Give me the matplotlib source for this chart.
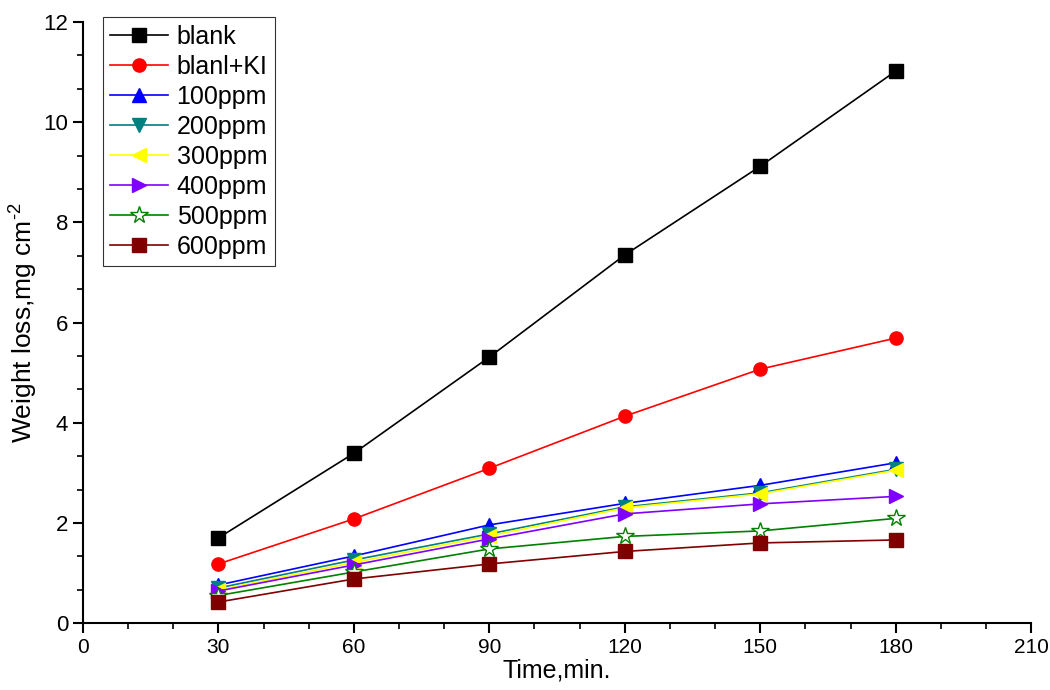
import numpy as np
import matplotlib
matplotlib.use('Agg')
import matplotlib.pyplot as plt
from matplotlib.ticker import MultipleLocator

plt.rcParams['font.family'] = ['Liberation Sans', 'DejaVu Sans']
plt.rcParams['mathtext.fontset'] = 'custom'
plt.rcParams['mathtext.rm'] = 'Liberation Sans'

time = [30, 60, 90, 120, 150, 180]

blank = [1.70, 3.39, 5.31, 7.35, 9.12, 11.02]
blank_ki = [1.18, 2.08, 3.09, 4.13, 5.07, 5.69]
ppm100 = [0.76, 1.34, 1.96, 2.39, 2.75, 3.20]
ppm200 = [0.70, 1.26, 1.78, 2.32, 2.60, 3.07]
ppm300 = [0.66, 1.21, 1.74, 2.30, 2.58, 3.05]
ppm400 = [0.64, 1.16, 1.68, 2.18, 2.38, 2.53]
ppm500 = [0.55, 1.02, 1.48, 1.73, 1.84, 2.09]
ppm600 = [0.42, 0.88, 1.18, 1.43, 1.60, 1.66]

series = [
    ('blank', blank, 'black', 's', 'full'),
    ('blanl+KI', blank_ki, 'red', 'o', 'full'),
    ('100ppm', ppm100, 'blue', '^', 'full'),
    ('200ppm', ppm200, '#008080', 'v', 'full'),
    ('300ppm', ppm300, '#FFFF00', '<', 'full'),
    ('400ppm', ppm400, '#8000FF', '>', 'full'),
    ('500ppm', ppm500, 'green', '*', 'none'),
    ('600ppm', ppm600, '#800000', 's', 'full'),
]

fig = plt.figure(figsize=(10.5, 6.9), dpi=100)
ax = fig.add_axes([0.079, 0.097, 0.903, 0.871])

for name, vals, col, mk, fill in series:
    if fill == 'none':
        ax.plot(time, vals, color=col, marker=mk, markersize=13, lw=1.2,
                markerfacecolor='white', markeredgecolor=col, markeredgewidth=1.0, label=name)
    else:
        ax.plot(time, vals, color=col, marker=mk, markersize=9.5, lw=1.2, label=name)

ax.set_xlim(0, 210)
ax.set_ylim(0, 12)
ax.xaxis.set_major_locator(MultipleLocator(30))
ax.xaxis.set_minor_locator(MultipleLocator(10))
ax.yaxis.set_major_locator(MultipleLocator(2))
ax.yaxis.set_minor_locator(MultipleLocator(2 / 3))
ax.tick_params(which='major', direction='out', length=7, width=1.5)
ax.tick_params(which='minor', direction='out', length=4, width=1.2)
ax.tick_params(axis='x', which='major', labelsize=15)
ax.tick_params(axis='y', which='major', labelsize=16)
for s in ['top', 'right']:
    ax.spines[s].set_visible(False)
for s in ['bottom', 'left']:
    ax.spines[s].set_linewidth(1.5)

ax.set_xlabel('Time,min.', fontsize=18, labelpad=1)
ax.set_ylabel(r'Weight loss,mg cm$^{\text{-2}}$', fontsize=19, labelpad=3)

leg = ax.legend(loc='upper left', bbox_to_anchor=(0.021, 1.008), borderaxespad=0,
                fontsize=18, frameon=True, fancybox=False, edgecolor='black',
                handlelength=2.3, labelspacing=0.24, borderpad=0.3, handletextpad=0.35)
leg.get_frame().set_linewidth(0.8)

fig.savefig('out.png', dpi=100)
